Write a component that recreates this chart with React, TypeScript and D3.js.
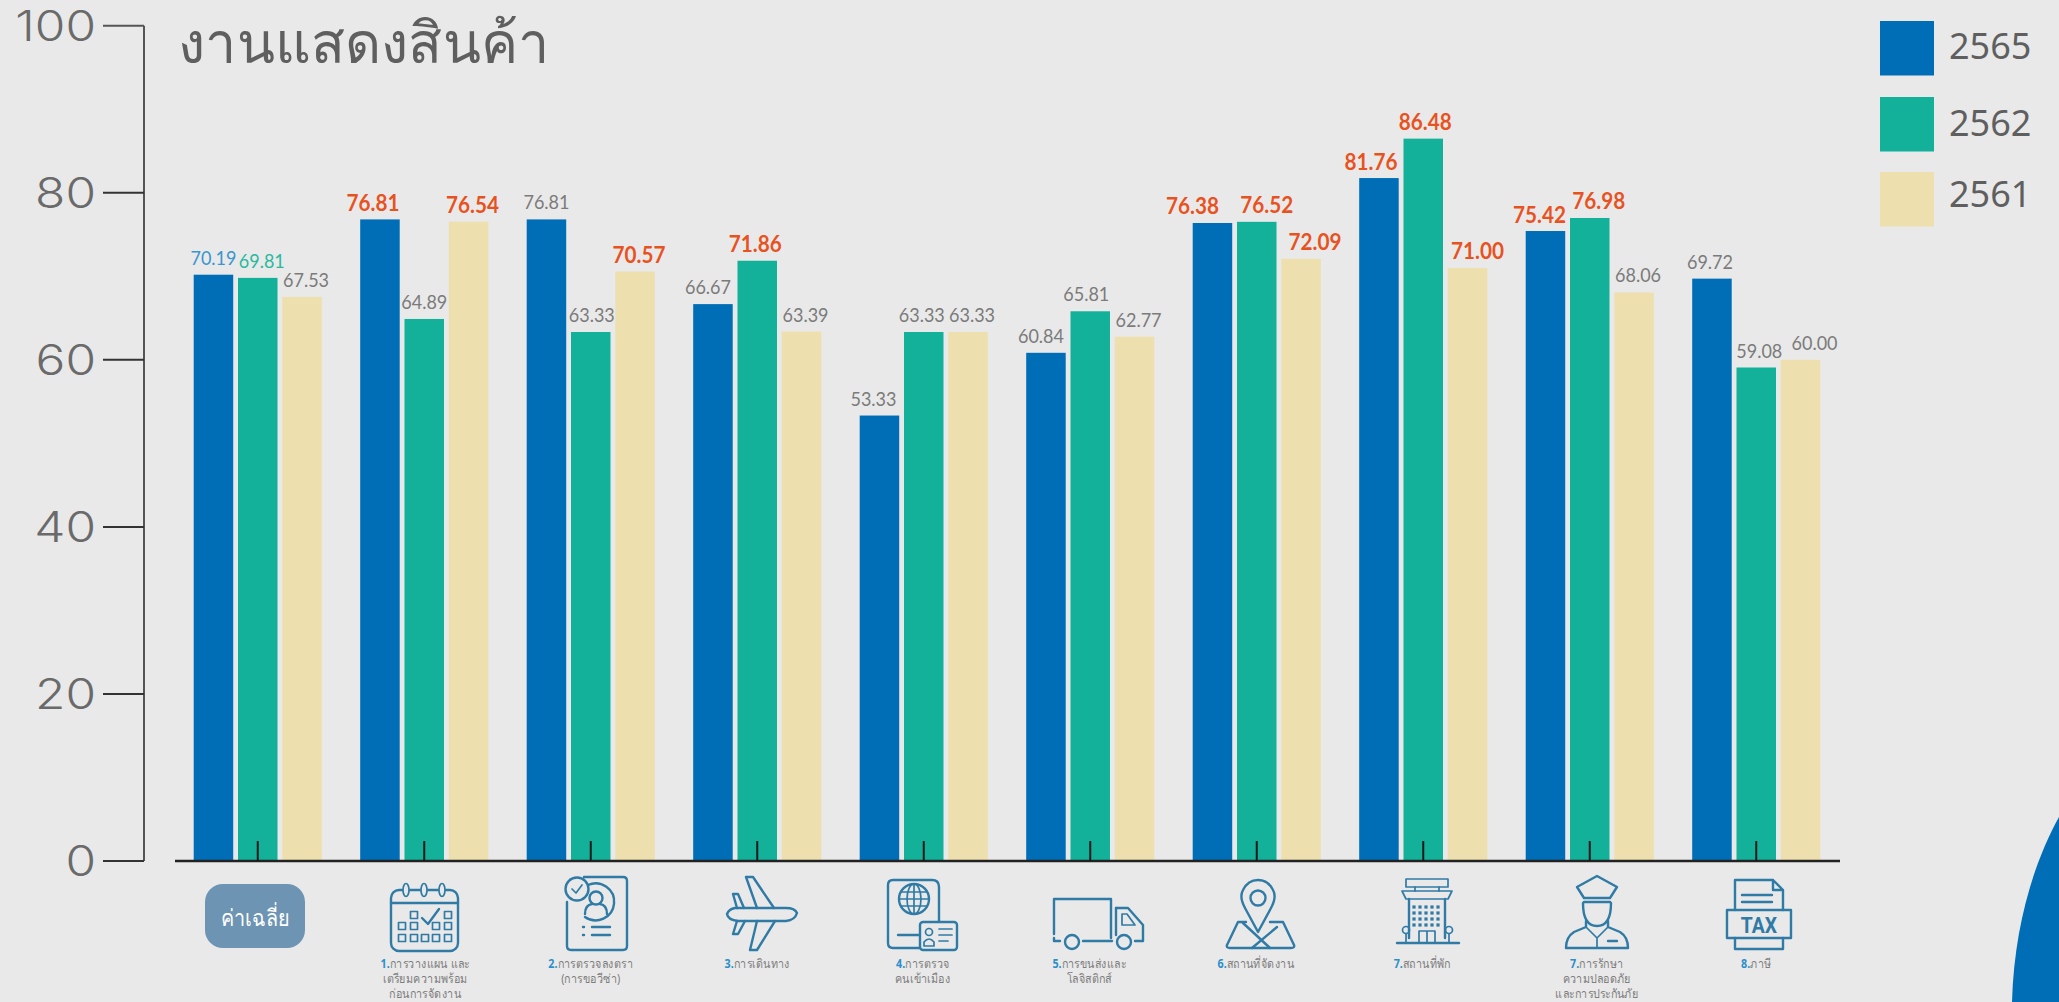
import React from "react";
import * as d3 from "d3";

const categories = ["avg", "plan", "visa", "travel", "immigration", "logistics", "venue", "hotel", "safety", "tax"];
const seriesNames = ["2565", "2562", "2561"];
const series2565 = [70.19, 76.81, 76.81, 66.67, 53.33, 60.84, 76.38, 81.76, 75.42, 69.72];
const series2562 = [69.81, 64.89, 63.33, 71.86, 63.33, 65.81, 76.52, 86.48, 76.98, 59.08];
const series2561 = [67.53, 76.54, 70.57, 63.39, 63.33, 62.77, 72.09, 71.0, 68.06, 60.0];
const highlight2565 = [0, 1, 0, 0, 0, 0, 1, 1, 1, 0];
const highlight2562 = [0, 0, 0, 1, 0, 0, 1, 1, 1, 0];
const highlight2561 = [0, 1, 1, 0, 0, 0, 1, 1, 0, 0];
const yTicks = [0, 20, 40, 60, 80, 100];
const title = "งานแสดงสินค้า";
const averageLabel = "ค่าเฉลี่ย";
const categoryLabels = [
  [],
  [["1.", "การวางแผน และ"], ["", "เตรียมความพร้อม"], ["", "ก่อนการจัดงาน"]],
  [["2.", "การตรวจลงตรา"], ["", "(การขอวีซ่า)"]],
  [["3.", "การเดินทาง"]],
  [["4.", "การตรวจ"], ["", "คนเข้าเมือง"]],
  [["5.", "การขนส่งและ"], ["", "โลจิสติกส์"]],
  [["6.", "สถานที่จัดงาน"]],
  [["7.", "สถานที่พัก"]],
  [["7.", "การรักษา"], ["", "ความปลอดภัย"], ["", "และการประกันภัย"]],
  [["8.", "ภาษี"]],
];

const BG = "#e9e9e9";
const colors = ["#006eb6", "#13b09a", "#eedfae"];
const GRAY = "#7b7b7b";
const RED = "#e8521f";
const ICON = "#2f7ba6";
const allValues = [series2565, series2562, series2561];
const allHighlights = [highlight2565, highlight2562, highlight2561];
// label nudges per group/series, to follow the hand-placed labels of the source
const labelDx = [
  [0, 4, 4], [-7, 0, 4], [0, 1, 4], [-5, -2, 4], [-6, -2, 4],
  [-5, -4, 4], [-20, 10, 14], [-8, 2, 10], [-6, 9, 4], [-2, 3, 14],
];

const y = d3.scaleLinear().domain([0, 100]).range([861, 25.7]);
const x0 = d3.scaleBand<string>().domain(categories).range([193.7, 193.7 + 166.5 * 10]);
const x1 = d3.scaleBand<string>().domain(seriesNames).range([0, 128.1]).paddingInner(0.108);

const s = { fill: "none", stroke: ICON, strokeWidth: 2.4, strokeLinejoin: "round", strokeLinecap: "round" } as const;
const thin = { ...s, strokeWidth: 1.7 };

function Calendar() {
  const cells = [[414, 915], [448, 915], [402, 926], [414, 926], [436, 926], [448, 926], [402, 938], [414, 938], [425, 938], [436, 938], [448, 938]];
  return (
    <g>
      <rect x={391} y={890} width={67} height={61} rx={8} {...s} />
      <path d="M391 903H458" {...s} />
      {[406, 424, 442].map((cx) => <ellipse key={cx} cx={cx} cy={890} rx={3} ry={6.5} {...thin} fill={BG} />)}
      {cells.map(([cx, cy], i) => <rect key={i} x={cx - 3.5} y={cy - 3.5} width={7} height={7} {...thin} />)}
      <path d="M422 918L428 924L439 909" {...s} />
    </g>
  );
}
function Visa() {
  return (
    <g>
      <path d="M584 877H623Q627 877 627 881V946Q627 950 623 950H571Q567 950 567 946V902" {...s} />
      <circle cx={577} cy={889} r={11.5} {...s} />
      <path d="M572 889L576 893L582 885" {...thin} />
      <path d="M588 885A18.5 18.5 0 1 1 585 917" {...s} />
      <circle cx={596} cy={898} r={6.5} {...s} />
      <path d="M585 914Q585 905 592 904M607 914Q607 905 600 904" {...s} />
      <path d="M592 927H610M592 935H610" {...s} />
      <path d="M583 927H584M583 935H584" {...s} />
    </g>
  );
}
function Plane() {
  return (
    <g>
      <path d="M735 908H786Q795 908 797 913Q795 920 786 921H738Q728 920 727 914Q729 909 735 908Z" {...s} />
      <path d="M757 908L746 877H753L774 908" {...s} />
      <path d="M757 921L750 950H757L775 921" {...s} />
      <path d="M737 908L733 894H738L744 908" {...s} />
      <path d="M737 921L733 934H738L745 921" {...s} />
    </g>
  );
}
function Passport() {
  return (
    <g>
      <path d="M920 948H893Q888 948 888 943V885Q888 880 893 880H932Q939 880 939 887V921" {...s} />
      <circle cx={914} cy={899} r={15} {...s} />
      <ellipse cx={914} cy={899} rx={7} ry={15} {...thin} />
      <path d="M899 899H929M901 892H927M901 906H927M914 884V914" {...thin} />
      <path d="M898 935H919" {...s} />
      <rect x={920} y={922} width={37} height={28} rx={3} {...s} />
      <circle cx={929} cy={932} r={3.5} {...thin} />
      <path d="M924 946V942Q929 936 934 942V946Z" {...thin} />
      <path d="M939 929H952M939 935H952M939 941H948" {...thin} />
    </g>
  );
}
function Truck() {
  return (
    <g>
      <path d="M1054 934V899H1111V938" {...s} />
      <path d="M1054 938V941H1060" {...s} />
      <path d="M1116 908H1128L1143 925V941H1135" {...s} />
      <path d="M1116 908V935" {...s} />
      <path d="M1122 914H1127L1135 925H1122Z" {...thin} />
      <circle cx={1072} cy={942} r={7} {...s} />
      <circle cx={1124} cy={942} r={7} {...s} />
      <path d="M1083 941H1112" {...s} />
    </g>
  );
}
function Pin() {
  return (
    <g>
      <path d="M1258 932L1245 908Q1239 897 1243 890Q1248 880 1258 880Q1268 880 1273 890Q1277 897 1271 908Z" {...s} />
      <circle cx={1258} cy={898} r={7.5} {...s} />
      <path d="M1246 922H1238L1227 945Q1226 948 1230 948H1291Q1295 948 1294 945L1283 922H1270" {...s} />
      <path d="M1243 923L1270 948M1277 927L1252 948" {...s} />
    </g>
  );
}
function Hotel() {
  const dots: [number, number][] = [];
  for (const cy of [907, 913, 919, 925]) for (const cx of [1414, 1420, 1426, 1432, 1438]) dots.push([cx, cy]);
  return (
    <g>
      <rect x={1406} y={879} width={42} height={8} {...thin} />
      <path d="M1415 887V891M1439 887V891" {...thin} />
      <path d="M1402 891H1452L1448 899H1406Z" {...thin} />
      <path d="M1409 899V938M1445 899V938" {...s} />
      {dots.map(([cx, cy], i) => <rect key={i} x={cx - 1.6} y={cy - 1.6} width={3.2} height={3.2} fill={ICON} />)}
      <path d="M1397 943H1459" {...s} />
      <path d="M1419 943V931H1435V943M1427 931V943" {...thin} />
      <circle cx={1406} cy={930} r={3.5} {...thin} />
      <circle cx={1449} cy={930} r={3.5} {...thin} />
      <path d="M1406 934V943M1449 934V943" {...thin} />
    </g>
  );
}
function Officer() {
  return (
    <g>
      <path d="M1597 876L1617 887L1610 898H1584L1577 887Z" {...s} />
      <path d="M1584 902H1610" {...s} />
      <path d="M1583 903Q1583 926 1597 926Q1611 926 1611 903" {...s} />
      <path d="M1586 921V927L1574 932Q1566 937 1566 948H1628Q1628 937 1620 932L1608 927V921" {...s} />
      <path d="M1586 927L1597 938L1608 927M1597 938V948" {...thin} />
      <path d="M1608 941H1617" {...s} />
    </g>
  );
}
function Tax() {
  return (
    <g>
      <path d="M1735 910V880H1773L1783 890V910M1773 880V890H1783" {...s} />
      <path d="M1742 895H1772M1742 902H1772" {...s} />
      <rect x={1727} y={910} width={64} height={28} {...s} />
      <path d="M1735 938V949H1783V938" {...s} />
      <text x={1759} y={933} textAnchor="middle" fontFamily="Roboto, sans-serif" fontWeight={700} fontSize={22} fill={ICON} transform="translate(1759 0) scale(0.88 1) translate(-1759 0)">TAX</text>
    </g>
  );
}
const icons = [null, Calendar, Visa, Plane, Passport, Truck, Pin, Hotel, Officer, Tax];

function labelColor(si: number, gi: number) {
  if (allHighlights[si][gi]) return RED;
  if (gi === 0 && si === 0) return "#3a96cf";
  if (gi === 0 && si === 1) return "#2bb8a0";
  return GRAY;
}

export default function App() {
  return (
    <svg width={2059} height={1002} style={{ position: "fixed", left: 0, top: 0, background: BG, display: "block" }}>
      <path d="M2059 817C2035 860 2014 925 2012 1002H2059Z" fill={colors[0]} />

      {/* y axis */}
      <line x1={144} x2={144} y1={y(100)} y2={y(0)} stroke="#555" strokeWidth={2} />
      {yTicks.map((t) => (
        <g key={t}>
          <line x1={103} x2={144} y1={y(t)} y2={y(t)} stroke={t === 100 ? "#555" : "#333"} strokeWidth={2} />
          <text transform={`translate(96,${y(t) + 15}) scale(1.18,1)`} textAnchor="end" fontFamily="Inter, sans-serif" fontWeight={300} fontSize={42} fill="#6a6a6a">{t}</text>
        </g>
      ))}

      <text x={178} y={63} textLength={371} lengthAdjust="spacingAndGlyphs" fontFamily="'Noto Sans', sans-serif" fontSize={57} fontWeight={500} fill="#5f5f5f">{title}</text>

      {/* bars */}
      {categories.map((c, gi) => (
        <g key={c} transform={`translate(${x0(c)},0)`}>
          {seriesNames.map((n, si) => (
            <rect key={n} x={x1(n)} y={y(allValues[si][gi])} width={x1.bandwidth()} height={y(0) - y(allValues[si][gi])} fill={colors[si]} />
          ))}
        </g>
      ))}

      {/* data labels */}
      {categories.map((c, gi) =>
        seriesNames.map((n, si) => {
          const v = allValues[si][gi];
          const hot = !!allHighlights[si][gi];
          const lx = (x0(c) as number) + (x1(n) as number) + x1.bandwidth() / 2 + labelDx[gi][si];
          return (
            <text
              key={c + n}
              transform={`translate(${lx},${y(v) - (hot ? 8.5 : 10)}) scale(0.9,1)`}
              textAnchor="middle"
              fontFamily="Lato, sans-serif"
              fontWeight={hot ? 700 : 400}
              fontSize={hot ? 23 : 20}
              fill={labelColor(si, gi)}
            >
              {v.toFixed(2)}
            </text>
          );
        })
      )}

      {/* baseline and group ticks */}
      <line x1={175} x2={1840} y1={y(0)} y2={y(0)} stroke="#222" strokeWidth={2.4} />
      {categories.map((c) => {
        const cx = (x0(c) as number) + x1.range()[1] / 2;
        return <line key={c} x1={cx} x2={cx} y1={841} y2={y(0)} stroke="#1a1a1a" strokeWidth={2} />;
      })}

      {/* average badge */}
      <rect x={205} y={884} width={100} height={64} rx={18} fill="#6d94b3" />
      <text x={255} y={926} textAnchor="middle" fontFamily="'Noto Sans', sans-serif" fontSize={23} fontWeight={500} fill="#fff" textLength={68} lengthAdjust="spacingAndGlyphs">{averageLabel}</text>

      {/* category icons */}
      {icons.map((Icon, i) => (Icon ? <Icon key={i} /> : null))}

      {/* category text */}
      {categories.map((c, gi) => {
        const cx = (x0(c) as number) + x1.range()[1] / 2 + (gi === 8 ? 7 : gi === 1 ? 1 : 0) + (gi >= 4 && gi < 8 ? -1 : 0);
        return categoryLabels[gi].map(([num, txt], li) => (
          <text key={li} transform={`translate(${cx},${968 + li * 15.2}) scale(0.86,1)`} textAnchor="middle" fontFamily="'Noto Sans', sans-serif" fontSize={12.5} fill="#7d7d7d">
            {num && <tspan fill="#2b8fcc" fontWeight={700}>{num}</tspan>}
            {txt}
          </text>
        ));
      })}

      {/* legend */}
      {seriesNames.map((n, si) => {
        const tops = [21, 97, 172];
        const bases = [59, 136, 207];
        return (
          <g key={n}>
            <rect x={1880} y={tops[si]} width={54} height={54.5} fill={colors[si]} />
            <text x={1949} y={bases[si]} fontFamily="'Noto Sans', sans-serif" fontSize={36} fill="#5f5f5f">{n}</text>
          </g>
        );
      })}
    </svg>
  );
}
